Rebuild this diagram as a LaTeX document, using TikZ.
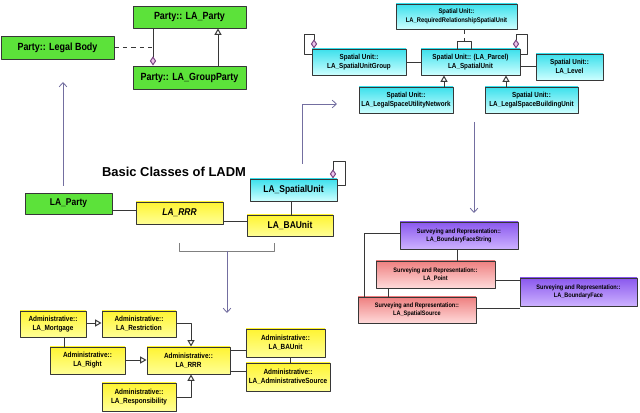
\documentclass[tikz,border=0pt]{standalone}
\usepackage{fontspec}
\setmainfont{Liberation Sans}[FakeStretch=0.86]
\newfontfamily\titlefont{Liberation Sans}
\usetikzlibrary{arrows.meta}
\definecolor{boxline}{RGB}{55,55,55}
\definecolor{pkgline}{RGB}{115,110,160}
\definecolor{lgreen}{RGB}{92,226,58}
\definecolor{dpink}{RGB}{240,196,236}
\definecolor{dpurple}{RGB}{120,70,130}
\begin{document}
\begin{tikzpicture}[x=0.025cm, y=-0.025cm, line join=round, >={Straight Barb[length=3pt,width=5.5pt]},
cls/.style={draw=boxline, line width=0.7pt, align=center, inner sep=1pt},
sz/.style 2 args={minimum width=#1*0.025cm, minimum height=#2*0.025cm},
grn/.style={cls, fill=lgreen},
ylw/.style={cls, top color={rgb,255:red,255;green,244;blue,50}, bottom color={rgb,255:red,255;green,255;blue,150}},
cyn/.style={cls, top color={rgb,255:red,60;green,224;blue,236}, bottom color={rgb,255:red,205;green,255;blue,255}},
prp/.style={cls, top color={rgb,255:red,138;green,88;blue,238}, bottom color={rgb,255:red,205;green,178;blue,255}},
pnk/.style={cls, top color={rgb,255:red,238;green,128;blue,128}, bottom color={rgb,255:red,255;green,218;blue,218}},
assoc/.style={draw=boxline, line width=0.7pt},
gen/.style={assoc, -{Triangle[open,length=4.5pt,width=5pt]}},
agg/.style={assoc, {Diamond[length=6.5pt,width=4.5pt,fill=dpink,color=dpurple]}-},
pkg/.style={draw=pkgline, line width=0.6pt}]
\useasboundingbox (0,0) rectangle (640,413);
% Party package
\begin{scope}[font=\bfseries\fontsize{7.4}{8.6}\selectfont]
\node[grn, sz={113}{22}] (laparty) at (189.5,17) {Party:: LA\_Party};
\node[grn, sz={113}{23}] (legalbody) at (57.5,47.5) {Party:: Legal Body};
\node[grn, sz={113}{23}] (groupparty) at (189.5,77.5) {Party:: LA\_GroupParty};
\end{scope}
\draw[assoc, dashed] (legalbody.east) -- (legalbody.east -| 153,0);
\draw[agg] (groupparty.north -| 153,0) -- (laparty.south -| 153,0);
\draw[gen] (groupparty.north -| 218,0) -- (laparty.south -| 218,0);
% Spatial unit package
\begin{scope}[font=\bfseries\fontsize{5.2}{6.4}\selectfont]
\node[cyn, sz={121}{25}, font=\bfseries\fontsize{4.8}{6.2}\selectfont] (required) at (456.5,16.5) {Spatial Unit::\\LA\_RequiredRelationshipSpatialUnit};
\node[cyn, sz={94}{26}] (sugroup) at (359,62) {Spatial Unit::\\LA\_SpatialUnitGroup};
\node[cyn, sz={99}{26}] (su) at (470.5,62) {Spatial Unit:: (LA\_Parcel)\\LA\_SpatialUnit};
\node[cyn, sz={67}{26}] (level) at (569.5,67) {Spatial Unit::\\LA\_Level};
\node[cyn, sz={94}{26}] (utility) at (406,100) {Spatial Unit::\\LA\_LegalSpaceUtilityNetwork};
\node[cyn, sz={93}{26}] (building) at (531.5,100) {Spatial Unit::\\LA\_LegalSpaceBuildingUnit};
\end{scope}
\draw[assoc] (sugroup.east) -- (su.west);
\draw[assoc] (su.east |- 0,66) -- (level.west |- 0,66);
\draw[gen] (utility.north -| 444,0) -- (su.south -| 444,0);
\draw[gen] (building.north -| 506,0) -- (su.south -| 506,0);
\draw[assoc] (su.north -| 457,0) |- (471,41) -- (su.north -| 471,0);
\draw[assoc, dashed] (required.south -| 464,0) -- (464,41);
\draw[agg] (su.north -| 516,0) |- (527,34) |- (su.east |- 0,54);
\draw[agg] (sugroup.north -| 314,0) |- (304,34) |- (sugroup.west |- 0,54);
% Basic classes
\node[font=\titlefont\bfseries\fontsize{9.2}{11}\selectfont] (title) at (174,172) {Basic Classes of LADM};
\begin{scope}[font=\bfseries\fontsize{7}{8.4}\selectfont]
\node[grn, sz={87}{21}] (bparty) at (68.5,203.5) {LA\_Party};
\node[ylw, sz={87}{22}, font=\bfseries\itshape\fontsize{7}{8.4}\selectfont] (brrr) at (179.5,213) {LA\_RRR};
\node[cyn, sz={87}{22}] (bsu) at (293.5,190) {LA\_SpatialUnit};
\node[ylw, sz={86}{21}] (bbaunit) at (290,225.5) {LA\_BAUnit};
\end{scope}
\draw[assoc] (bparty.east |- 0,210) -- (brrr.west |- 0,210);
\draw[assoc] (brrr.east |- 0,221) -- (bbaunit.west |- 0,221);
\draw[assoc] (bsu.south -| 291,0) -- (bbaunit.north -| 291,0);
\draw[agg] (bsu.north -| 333,0) |- (345,161) |- (bsu.east |- 0,185);
% package pointers
\coordinate (partyfrom) at (63,186);
\coordinate (partyto) at (63,82);
\coordinate (sufrom) at (302,164);
\coordinate (suto) at (337,104);
\coordinate (survfrom) at (474,122);
\coordinate (survto) at (474,213);
\coordinate (admfrom) at (227,251);
\coordinate (admto) at (227,313);
\draw[pkg, ->] (partyfrom) -- (partyto);
\draw[pkg, ->] (sufrom) |- (suto);
\draw[pkg, ->] (survfrom) -- (survto);
\draw[pkg, draw=gray] (179,243) -- (179,251) -- (274,251) -- (274,243);
\draw[pkg, ->] (admfrom) -- (admto);
% Administrative package
\begin{scope}[font=\bfseries\fontsize{5.3}{6.4}\selectfont]
\node[ylw, sz={66}{26}] (mortgage) at (53,324) {Administrative::\\LA\_Mortgage};
\node[ylw, sz={74}{26}] (restriction) at (139,324) {Administrative::\\LA\_Restriction};
\node[ylw, sz={75}{27}] (right) at (87.5,360.5) {Administrative::\\LA\_Right};
\node[ylw, sz={83}{27}] (rrr) at (188.5,360.5) {Administrative::\\LA\_RRR};
\node[ylw, sz={74}{28}] (resp) at (139,397) {Administrative::\\LA\_Responsibility};
\node[ylw, sz={79}{28}] (baunit) at (285.5,343) {Administrative::\\LA\_BAUnit};
\node[ylw, sz={84}{28}] (source) at (288,377) {Administrative::\\LA\_AdministrativeSource};
\end{scope}
\draw[gen] (mortgage.east |- 0,323) -- (restriction.west |- 0,323);
\draw[assoc] (mortgage.south -| 64,0) -- (right.north -| 64,0);
\draw[gen] (restriction.east |- 0,323) -| (rrr.north -| 191,0);
\draw[gen] (right.east |- 0,360) -- (rrr.west |- 0,360);
\draw[gen] (resp.east |- 0,397) -| (rrr.south -| 191,0);
\draw[assoc] (rrr.east |- 0,350) -- (baunit.west |- 0,350);
\draw[assoc] (rrr.east |- 0,371) -- (source.west |- 0,371);
\draw[assoc] (baunit.south -| 290,0) -- (source.north -| 290,0);
% Surveying and representation package
\begin{scope}[font=\bfseries\fontsize{4.6}{5.6}\selectfont]
\node[prp, sz={118}{27}] (bfs) at (459,235.5) {Surveying and Representation::\\LA\_BoundaryFaceString};
\node[pnk, sz={119}{27}] (point) at (435.5,274.5) {Surveying and Representation::\\LA\_Point};
\node[pnk, sz={118}{26}] (ssource) at (417,310) {Surveying and Representation::\\LA\_SpatialSource};
\node[prp, sz={117}{28}] (bface) at (578.5,292) {Surveying and Representation::\\LA\_BoundaryFace};
\end{scope}
\draw[assoc] (bfs.south -| 457,0) -- (point.north -| 457,0);
\draw[assoc] (point.east |- 0,280) -- (bface.west |- 0,280);
\draw[assoc] (point.south -| 388,0) -- (ssource.north -| 388,0);
\draw[assoc] (bfs.west |- 0,233) -| (ssource.north -| 364,0);
\draw[assoc] (ssource.east |- 0,308) -- (bface.west |- 0,308);
\end{tikzpicture}
\end{document}
